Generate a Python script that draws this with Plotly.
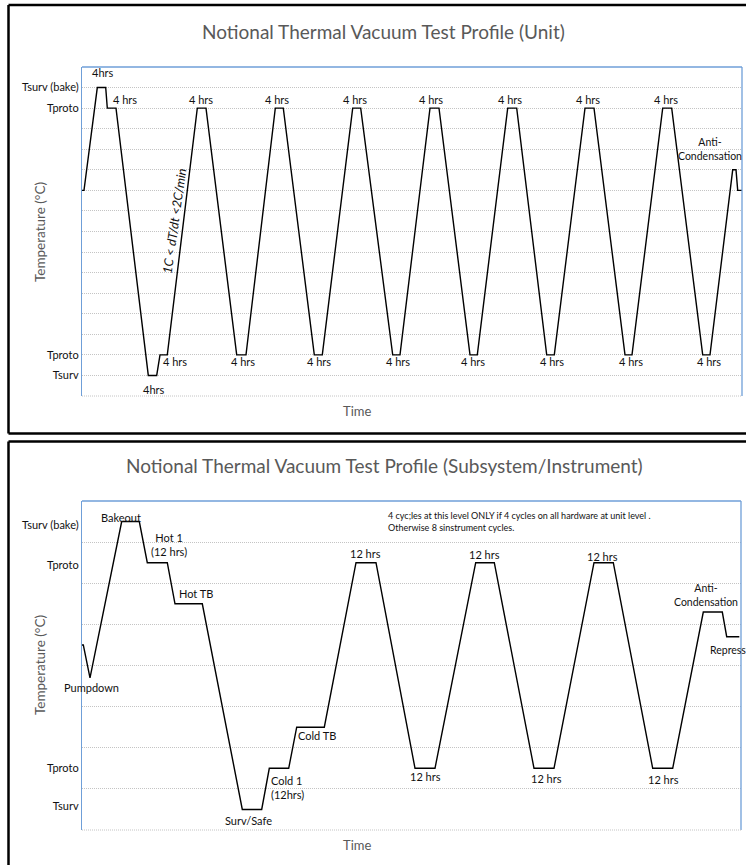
import plotly.graph_objects as go

W, H = 746, 865

# ---------------- data: unit-level profile (top chart) ----------------
unit_time = [0, 2, 15.3, 23.7, 25.3, 34, 66.3, 74.7, 78, 85.3,
             115.3, 124, 154.7, 164,
             193.3, 201.3, 232.3, 240.3,
             270.7, 278.7, 310.7, 318,
             348, 357, 388, 395.3,
             425.7, 434.7, 464.7, 472.3,
             503, 512, 543, 550,
             580.7, 589.7, 620.7, 628,
             650.7, 654, 655.7, 660]
unit_temp = [10, 10, 15, 15, 14, 14, 1, 1, 2, 2,
             14, 14, 2, 2,
             14, 14, 2, 2,
             14, 14, 2, 2,
             14, 14, 2, 2,
             14, 14, 2, 2,
             14, 14, 2, 2,
             14, 14, 2, 2,
             11, 11, 10, 10]
unit_tickvals = [1, 2, 14, 15]
unit_ticktext = ["Tsurv", "Tproto", "Tproto", "Tsurv (bake)"]

# ---------------- data: subsystem/instrument profile (bottom chart) ----------------
sub_time = [0, 1.3, 8, 39.7, 57.3, 65.3, 85.3, 93, 120.3, 160.3, 179.7,
            187.3, 206.7, 214.7, 242.3,
            274, 294, 333, 353,
            393.7, 412.3, 452, 472,
            512, 531.3, 570.7, 590.7,
            621.3, 640.3, 644.7, 657.3]
sub_temp = [4.5, 4.5, 3.7, 7.5, 7.5, 6.5, 6.5, 5.5, 5.5, 0.5, 0.5,
            1.5, 1.5, 2.5, 2.5,
            6.5, 6.5, 1.5, 1.5,
            6.5, 6.5, 1.5, 1.5,
            6.5, 6.5, 1.5, 1.5,
            5.3, 5.3, 4.7, 4.7]
sub_tickvals = [0.57, 1.5, 6.45, 7.42]
sub_ticktext = ["Tsurv", "Tproto", "Tproto", "Tsurv (bake)"]

FONT = "Lato, 'Open Sans', sans-serif"
LINE = "#000000"
GRID = "#c4c4c4"
GDASH = "1px,1px"
BLUE = "#6f9fd8"
TITLE_C = "#595959"
TXT = "#111111"


def px_x(p):
    return p / W


def px_y(p):
    return 1 - p / H


fig = go.Figure()
fig.add_trace(go.Scatter(x=unit_time, y=unit_temp, mode="lines",
                         line=dict(color=LINE, width=1.4), xaxis="x", yaxis="y",
                         showlegend=False, hoverinfo="skip"))
fig.add_trace(go.Scatter(x=sub_time, y=sub_temp, mode="lines",
                         line=dict(color=LINE, width=1.4), xaxis="x2", yaxis="y2",
                         showlegend=False, hoverinfo="skip"))

xcommon = dict(showgrid=False, showticklabels=False, showline=False,
               zeroline=False, ticks="", fixedrange=True)
fig.update_layout(
    width=W, height=H, margin=dict(l=0, r=0, t=0, b=0),
    paper_bgcolor="white", plot_bgcolor="white",
    font=dict(family=FONT, size=11, color=TXT),
    xaxis=dict(domain=[px_x(82), px_x(742)], range=[0, 660], anchor="y", **xcommon),
    yaxis=dict(domain=[px_y(396), px_y(67)], range=[0, 16], anchor="x",
               tickvals=unit_tickvals, ticktext=unit_ticktext, ticks="",
               showgrid=True, gridcolor=GRID, griddash=GDASH, gridwidth=1,
               minor=dict(dtick=1, tick0=0, showgrid=True, gridcolor=GRID,
                          griddash=GDASH, gridwidth=1, ticks=""),
               zeroline=False, showline=True, linecolor=BLUE, linewidth=1.3,
               tickfont=dict(family=FONT, size=11, color=TXT), fixedrange=True),
    xaxis2=dict(domain=[px_x(82), px_x(741)], range=[0, 659], anchor="y2", **xcommon),
    yaxis2=dict(domain=[px_y(830), px_y(501)], range=[0, 8], anchor="x2",
                tickvals=sub_tickvals, ticktext=sub_ticktext, ticks="",
                showgrid=False,
                minor=dict(dtick=1, tick0=0, showgrid=True, gridcolor=GRID,
                           griddash=GDASH, gridwidth=1, ticks=""),
                zeroline=False, showline=True, linecolor=BLUE, linewidth=1.3,
                tickfont=dict(family=FONT, size=11, color=TXT), fixedrange=True),
)

shapes = []
# blue frame top/right of plot areas, dotted grid at the bottom
for xr, yr in (("x domain", "y domain"), ("x2 domain", "y2 domain")):
    shapes.append(dict(type="line", xref=xr, yref=yr, x0=0, x1=1, y0=1, y1=1,
                       line=dict(color=BLUE, width=1.3)))
    shapes.append(dict(type="line", xref=xr, yref=yr, x0=1, x1=1, y0=0, y1=1,
                       line=dict(color=BLUE, width=1.3)))
    shapes.append(dict(type="line", xref=xr, yref=yr, x0=0, x1=1, y0=0, y1=0,
                       line=dict(color=GRID, width=1, dash=GDASH)))
# panel borders
bw = 2.5
shapes += [
    dict(type="line", xref="paper", yref="paper", x0=px_x(8.5), x1=1.01, y0=px_y(5), y1=px_y(5), line=dict(color="black", width=bw)),
    dict(type="line", xref="paper", yref="paper", x0=px_x(8.5), x1=px_x(8.5), y0=px_y(5), y1=px_y(433.5), line=dict(color="black", width=bw)),
    dict(type="line", xref="paper", yref="paper", x0=px_x(8.5), x1=1.01, y0=px_y(433.5), y1=px_y(433.5), line=dict(color="black", width=bw)),
    dict(type="line", xref="paper", yref="paper", x0=px_x(8.5), x1=1.01, y0=px_y(441.5), y1=px_y(441.5), line=dict(color="black", width=bw)),
    dict(type="line", xref="paper", yref="paper", x0=px_x(8.5), x1=px_x(8.5), y0=px_y(441.5), y1=-0.01, line=dict(color="black", width=bw)),
]
fig.update_layout(shapes=shapes)

ann = []


def paper_text(text, x, y, size, color, angle=0):
    ann.append(dict(text=text, xref="paper", yref="paper", x=px_x(x), y=px_y(y),
                    xanchor="center", yanchor="middle", showarrow=False,
                    textangle=angle, font=dict(family=FONT, size=size, color=color)))


paper_text("Notional Thermal Vacuum Test Profile (Unit)", 383, 31, 19, TITLE_C)
paper_text("Notional Thermal Vacuum Test Profile (Subsystem/Instrument)", 384, 466, 19, TITLE_C)
paper_text("Temperature (°C)", 40, 232, 13.5, TITLE_C, -90)
paper_text("Temperature (°C)", 40, 665, 13.5, TITLE_C, -90)
paper_text("Time", 357, 411, 13, TITLE_C)
paper_text("Time", 357, 845, 13, TITLE_C)


def lab(text, x, y, axes=1, xanchor="center", align="center", size=11, angle=0):
    sfx = "" if axes == 1 else "2"
    ann.append(dict(text=text, xref="x" + sfx, yref="y" + sfx, x=x, y=y,
                    xanchor=xanchor, yanchor="middle", align=align, showarrow=False,
                    textangle=angle, font=dict(family=FONT, size=size, color=TXT)))


# top chart labels
lab("4hrs", 20, 15.71)
for xv in [42.7, 119, 194.5, 272.7, 349.3, 427.7, 506, 584.3]:
    lab("4 hrs", xv, 14.43)
for xv in [93, 160.5, 237, 315.5, 391.3, 470, 548.5, 626.8]:
    lab("4 hrs", xv, 1.67)
lab("4hrs", 71.5, 0.34)
lab("Anti-<br>Condensation", 628, 12.01, size=10.5)
lab("<i>1C &lt; dT/dt &lt;2C/min</i>", 92, 8.51, size=12.5, angle=-82)

# bottom chart labels
lab("Bakeout", 38.5, 7.61, 2)
lab("Hot 1<br>(12 hrs)", 86.6, 6.94, 2)
lab("Hot TB", 114.3, 5.76, 2)
for xv, yv in [(283.5, 6.73), (402, 6.69), (520.8, 6.66)]:
    lab("12 hrs", xv, yv, 2)
for xv, yv in [(343.5, 1.29), (464.3, 1.26), (581, 1.24)]:
    lab("12 hrs", xv, yv, 2)
lab("Anti-<br>Condensation", 624, 5.71, 2, size=10.5)
lab("Repress", 625.5, 4.38, 2, xanchor="left", size=10.5)
lab("Pumpdown", 9, 3.46, 2)
lab("Cold TB", 235, 2.31, 2)
lab("Cold 1<br>(12hrs)", 186.5, 1.03, 2, xanchor="left", align="left")
lab("Surv/Safe", 166, 0.24, 2)
lab("4 cyc;les at this level ONLY if 4 cycles on all hardware at unit level .<br>"
    "Otherwise 8 sinstrument cycles.", 304, 7.5, 2, xanchor="left", align="left", size=9)

fig.update_layout(annotations=ann)
fig.write_html("out.html", config={"displayModeBar": False},
               post_script="document.body.style.margin='0';document.body.style.overflow='hidden';")
